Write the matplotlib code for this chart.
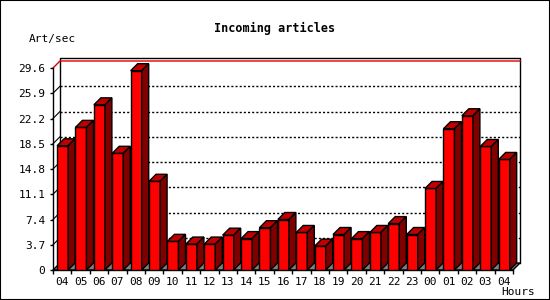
import matplotlib
matplotlib.use("Agg")
import matplotlib.pyplot as plt
from matplotlib.patches import Polygon, Rectangle
import numpy as np

plt.rcParams['font.family'] = ['DejaVu Sans Mono']

hours = ['04', '05', '06', '07', '08', '09', '10', '11', '12', '13', '14', '15', '16',
         '17', '18', '19', '20', '21', '22', '23', '00', '01', '02', '03', '04']
rate = [18.2, 20.9, 24.2, 17.1, 29.2, 13.0, 4.2, 3.8, 3.8, 5.1, 4.6, 6.2, 7.4,
        5.5, 3.5, 5.2, 4.6, 5.5, 6.8, 5.2, 11.95, 20.7, 22.6, 18.1, 16.2]
yticks = [0, 3.7, 7.4, 11.1, 14.8, 18.5, 22.2, 25.9, 29.6]
ymax = 29.6

W, H = 550, 300
fig = plt.figure(figsize=(W / 100, H / 100), dpi=100)
fig.patches.append(Rectangle((0, 0), 1, 1, transform=fig.transFigure, fill=False,
                             ec='black', lw=1.5))

ax_l, ax_b, ax_w, ax_h = 53, 30, 460, 202
ax = fig.add_axes([ax_l / W, ax_b / H, ax_w / W, ax_h / H])
n = len(hours)
ax.set_xlim(0, n)
ax.set_ylim(0, ymax)

# 3d depth (7 px) in data units
DX = 7 * n / ax_w
DY = 7 * ymax / ax_h

# floor
ax.add_patch(Polygon([(0, 0), (n, 0), (n + DX, DY), (DX, DY)], closed=True,
                     fc='#808080', ec='black', lw=1, zorder=1, clip_on=False))
# back wall frame
top = ymax + DY + 0.4
ax.plot([DX, DX, n + DX, n + DX], [DY, top, top, DY], color='black', lw=1,
        zorder=1, clip_on=False)
# gridlines + connectors
for v in yticks[1:-1]:
    ax.plot([DX, n + DX], [v + DY, v + DY], color='black', lw=1,
            linestyle=(0, (1.5, 1.5)), zorder=1, clip_on=False)
    ax.plot([0, DX], [v, v + DY], color='black', lw=0.8, zorder=1, clip_on=False)
ax.plot([0, DX, n + DX], [ymax, ymax + DY, ymax + DY], color='#dd0000', lw=1,
        zorder=1, clip_on=False)

# bars
x = np.arange(n)
left = x + 0.22
bw = 0.6
ax.bar(left, rate, width=bw, align='edge', color='#ff0000', edgecolor='black',
       lw=1, zorder=3)
for l, v in zip(left, rate):
    r = l + bw
    ax.add_patch(Polygon([(l, v), (l + DX, v + DY), (r + DX, v + DY), (r, v)],
                         closed=True, fc='#c00000', ec='black', lw=1, zorder=3,
                         clip_on=False))
    ax.add_patch(Polygon([(r, 0), (r, v), (r + DX, v + DY), (r + DX, DY)],
                         closed=True, fc='#800000', ec='black', lw=1, zorder=3,
                         clip_on=False))

for s in ['top', 'right']:
    ax.spines[s].set_visible(False)
ax.spines['left'].set_linewidth(1)
ax.spines['bottom'].set_linewidth(1)
ax.set_facecolor('none')

ax.set_yticks(yticks)
ax.set_yticklabels(['0' if v == 0 else f'{v:.1f}' for v in yticks])
ax.tick_params(axis='y', length=2.5, width=1, pad=3, labelsize=8)
ax.set_xticks(x + 0.5)
ax.set_xticklabels(hours)
ax.tick_params(axis='x', which='major', length=0, pad=5, labelsize=8)
ax.set_xticks(np.arange(n + 1), minor=True)
ax.tick_params(axis='x', which='minor', length=3, width=1)

fig.text(0.5, 1 - 28 / H, 'Incoming articles', ha='center', va='center',
         fontsize=8.5, fontweight='bold')
fig.text(29 / W, 1 - 39 / H, 'Art/sec', ha='left', va='center', fontsize=8)
fig.text(535 / W, 1 - 292 / H, 'Hours', ha='right', va='center', fontsize=8)

fig.savefig('out.png', dpi=100)
